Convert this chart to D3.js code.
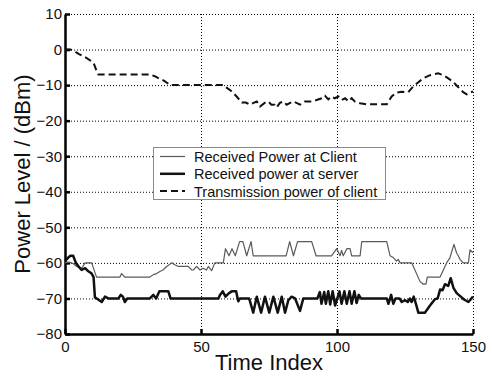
<!DOCTYPE html>
<html>
<head>
<meta charset="utf-8">
<script src="https://cdn.jsdelivr.net/npm/d3@7"></script>
<style>
  html, body { margin: 0; padding: 0; background: #fff; }
  svg { display: block; font-family: "Liberation Sans", Arial, sans-serif; }
</style>
</head>
<body>
<svg id="chart" width="493" height="377"></svg>
<script>
// ---- data ----
const xTicks = [0, 50, 100, 150];
const yTicks = [-80, -70, -60, -50, -40, -30, -20, -10, 0, 10];
const seriesNames = ["Received Power at Client", "Received power at server", "Transmission power of client"];

// [time index, power dBm]
const clientPower = [[0,-60],[1.5,-59.8],[3,-60.2],[4.3,-61],[6.1,-61.5],[7.4,-60],[9.8,-60],[11.6,-64],[20.2,-64],[20.8,-63],[22,-64],[31.2,-64],[32.5,-63.3],[33.7,-63],[34.9,-62.4],[36,-62],[37.4,-61],[39.2,-60],[40.4,-60.5],[41.7,-61],[45.3,-61],[46.6,-62],[47.2,-62],[48.4,-61],[49.6,-62],[50.8,-61.5],[52,-62],[52.7,-61],[53.9,-62.2],[55.1,-60],[58.2,-60],[59,-56],[60.3,-58],[61.4,-56],[62.6,-58],[64.2,-54],[65.4,-54],[66.8,-58],[68.4,-54],[69.2,-58],[81.3,-58],[82.6,-54],[84,-58],[85.5,-54],[90.7,-54],[92.3,-58],[98,-58],[99.9,-56],[101.1,-58],[101.7,-56.5],[102.3,-58],[103.6,-56],[104.8,-56],[105.4,-58],[108.5,-58],[109.1,-54],[118.3,-54],[119.5,-58],[120.7,-58.5],[121.9,-59.5],[122.5,-59],[123.2,-60],[127.5,-60],[130.5,-65.2],[131.7,-66],[132.7,-66],[133.2,-64],[137.9,-64],[139.1,-62],[140.3,-60],[141.5,-58.6],[143,-54.8],[144,-57.3],[144.6,-58],[145.2,-59],[146.4,-60],[148.3,-60],[148.9,-56.3],[150,-57.2]];

const serverPower = [[0,-59.5],[1.2,-58.5],[2,-58],[3,-58],[4,-60],[5,-61],[6.1,-62],[7.4,-61.5],[8.3,-62.2],[9.8,-63],[10.5,-64],[11,-69.7],[12.2,-70.3],[13.5,-71],[14.7,-69.5],[15.9,-70],[19.6,-70],[20.5,-69],[21.3,-69.5],[22,-71],[22.9,-70],[31.2,-70],[32.5,-69],[33.5,-70],[34.7,-68],[38,-68],[38.8,-70],[56.4,-70],[57,-69],[58,-68],[59,-69.5],[60.3,-68.5],[61.3,-68],[62.9,-68],[63.7,-70.8],[64.3,-70],[67.7,-70],[69.2,-74],[70.5,-69.5],[72.1,-74],[73.5,-69.5],[75.1,-74],[76.6,-69.5],[78.2,-74],[79.7,-69.5],[80.9,-74],[82.1,-70.5],[83.3,-69.5],[84.6,-70],[86.4,-73.5],[87.6,-70],[92.8,-70],[93.7,-68.2],[94.3,-71.5],[95.3,-68.2],[95.9,-71.5],[96.8,-68],[97.5,-71.7],[98.4,-68],[99.3,-72],[100.9,-68],[101.7,-71.5],[102.7,-68],[103.6,-71.5],[104.6,-68],[105.4,-71.5],[106.4,-68],[107.2,-71.3],[108,-69],[108.8,-70],[118.3,-70],[118.9,-71.5],[119.9,-69],[120.7,-71.5],[121.5,-70],[123,-70],[123.8,-71],[125,-70.5],[126,-71],[126.8,-70],[127.4,-71],[128.2,-69.5],[129.2,-72],[129.9,-74],[132.3,-74],[134.2,-72],[136,-70.2],[137,-70],[137.9,-67.5],[138.8,-67.7],[139.7,-66],[140.9,-66.5],[141.8,-64.3],[142.8,-67],[144,-68.5],[145.5,-69.5],[146.7,-70.3],[148.3,-71],[150,-69.5]];

const clientTxPower = [[0,0],[2,0],[3.5,-0.5],[5,-1.2],[8,-2.4],[10.5,-3.7],[11.6,-6],[12.3,-7],[31.2,-7],[33,-7.5],[35,-8.3],[36.5,-8.8],[38.6,-10],[58.2,-10],[59.4,-10.7],[61,-11.6],[63.1,-13.2],[65,-14.9],[66.5,-14.9],[68,-15.5],[69.3,-15],[70.5,-14.6],[71.7,-16],[73.4,-15],[74.7,-14.6],[75.9,-15.5],[77,-15.5],[77.8,-16.3],[79,-15],[80.3,-14.6],[81.5,-15.5],[83.9,-14.6],[85.1,-15],[86.4,-15.5],[88.2,-14.6],[90.7,-14.6],[92.5,-14.2],[94.4,-13.7],[95.6,-13],[96.8,-14],[98,-13.2],[99.2,-13.7],[100.5,-13.2],[101.7,-14.2],[103,-13.7],[104.2,-14.6],[105.4,-13.7],[106.5,-14.6],[108.5,-15.1],[110.9,-15.4],[114.6,-15.4],[118.3,-15.4],[120.1,-13.2],[121.9,-12.1],[123.7,-11.9],[126.2,-12],[128,-10.4],[129.9,-9.2],[131.7,-8.1],[134.2,-7.2],[137.2,-6.7],[139,-7.2],[140.9,-8.1],[142.6,-9],[144.6,-10.6],[146.4,-12],[147.7,-12.6],[148.9,-12.1],[150,-11.8]];

// ---- layout ----
const svg = d3.select("#chart");
const L = 65, R = 473, T = 14, B = 334;
const x = d3.scaleLinear().domain([0, 150]).range([L, R]);
const y = d3.scaleLinear().domain([-80, 10]).range([B, T]);

// grid (dotted)
const grid = svg.append("g").attr("stroke", "#000").attr("stroke-width", 1).attr("stroke-dasharray", "1,2");
grid.selectAll("line.h").data(yTicks.filter(d => d > -80)).join("line")
  .attr("x1", L).attr("x2", R).attr("y1", d => y(d) + 0.5).attr("y2", d => y(d) + 0.5);
grid.selectAll("line.v").data(xTicks.filter(d => d > 0)).join("line")
  .attr("x1", d => x(d) + 0.5).attr("x2", d => x(d) + 0.5).attr("y1", T).attr("y2", B);

// axes
const fmt = d3.format("d");
const yAxis = svg.append("g").attr("transform", `translate(${L},0)`)
  .call(d3.axisLeft(y).tickValues(yTicks).tickFormat(fmt).tickSize(-5).tickSizeOuter(0).tickPadding(3));
const xAxis = svg.append("g").attr("transform", `translate(0,${B})`)
  .call(d3.axisBottom(x).tickValues(xTicks).tickFormat(fmt).tickSize(-5).tickSizeOuter(0).tickPadding(7));
[xAxis, yAxis].forEach(a => {
  a.select(".domain").attr("stroke", "#000").attr("stroke-width", 2.5);
  a.selectAll(".tick line").attr("stroke", "#000").attr("stroke-width", 2.5);
  a.selectAll(".tick text").attr("font-size", 15).attr("fill", "#111").attr("font-family", "Liberation Sans, Arial, sans-serif");
});

// axis titles
svg.append("text").attr("x", 269).attr("y", 370).attr("text-anchor", "middle")
  .attr("font-size", 22).attr("fill", "#111").text("Time Index");
svg.append("text").attr("transform", `translate(30,${(T + B) / 2}) rotate(-90)`).attr("text-anchor", "middle")
  .attr("font-size", 22).attr("fill", "#111").text("Power Level / (dBm)");

// lines
const line = d3.line().x(d => x(d[0])).y(d => y(d[1]));
svg.append("path").datum(clientTxPower).attr("d", line).attr("fill", "none")
  .attr("stroke", "#111").attr("stroke-width", 2).attr("stroke-dasharray", "7,4");
svg.append("path").datum(clientPower).attr("d", line).attr("fill", "none")
  .attr("stroke", "#5a5a5a").attr("stroke-width", 1.2).attr("stroke-linejoin", "round");
svg.append("path").datum(serverPower).attr("d", line).attr("fill", "none")
  .attr("stroke", "#111").attr("stroke-width", 2.5).attr("stroke-linejoin", "round");

// legend
const lg = svg.append("g");
lg.append("rect").attr("x", 153.5).attr("y", 147.5).attr("width", 232).attr("height", 52)
  .attr("fill", "#fff").attr("stroke", "#8a8a8a").attr("stroke-width", 1);
const styles = [
  { stroke: "#5a5a5a", w: 1.2, dash: null },
  { stroke: "#111", w: 2.5, dash: null },
  { stroke: "#111", w: 2, dash: "7,4" }
];
seriesNames.forEach((name, i) => {
  const cy = 156.5 + i * 17.3;
  lg.append("line").attr("x1", 160).attr("x2", 185).attr("y1", cy).attr("y2", cy)
    .attr("stroke", styles[i].stroke).attr("stroke-width", styles[i].w)
    .attr("stroke-dasharray", styles[i].dash);
  lg.append("text").attr("x", 194).attr("y", cy + 5.5).attr("font-size", 14.5).attr("fill", "#111").text(name);
});
</script>
</body>
</html>
